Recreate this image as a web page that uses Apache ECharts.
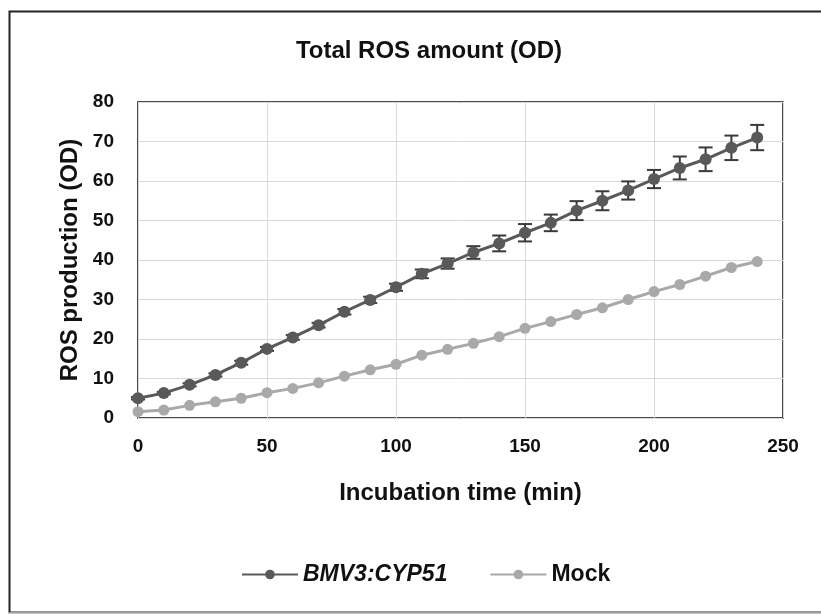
<!DOCTYPE html>
<html>
<head>
<meta charset="utf-8">
<script src="https://cdn.jsdelivr.net/npm/echarts@6/dist/echarts.min.js"></script>
<style>
html,body{margin:0;padding:0;background:#fff;}
#c{width:821px;height:614px;}
</style>
</head>
<body>
<div id="c"></div>
<script>
const times = [0,10,20,30,40,50,60,70,80,90,100,110,120,130,140,150,160,170,180,190,200,210,220,230,240];
const bmvValues = [5.0,6.3,8.4,10.9,14.0,17.5,20.4,23.5,26.9,29.9,33.1,36.5,39.1,41.9,44.2,46.9,49.4,52.5,55.0,57.6,60.5,63.3,65.5,68.4,71.0];
const bmvErrors = [0.3,0.3,0.4,0.4,0.5,0.5,0.6,0.6,0.7,0.8,0.9,1.1,1.3,1.6,2.0,2.2,2.1,2.4,2.4,2.3,2.3,2.9,3.0,3.1,3.2];
const mockValues = [1.6,2.0,3.2,4.1,5.0,6.4,7.5,8.9,10.6,12.2,13.6,15.9,17.4,18.9,20.6,22.7,24.4,26.2,27.9,30.0,32.0,33.8,35.9,38.1,39.6];
const xTicks = [0,50,100,150,200,250];
const yTicks = [0,10,20,30,40,50,60,70,80];

const FONT = '"Liberation Sans Narrow", "Liberation Sans", Arial, sans-serif';
const DARK = '#595959';
const LIGHT = '#a9a9a9';

const chart = echarts.init(document.getElementById('c'), null, {renderer:'canvas'});

const bmvData = times.map((t,i)=>[t,bmvValues[i]]);
const mockData = times.map((t,i)=>[t,mockValues[i]]);
const errData = times.map((t,i)=>[t,bmvValues[i],bmvErrors[i]]);

chart.setOption({
  animation:false,
  backgroundColor:'#fff',
  graphic:[
    {type:'rect', silent:true, z:-10,
     shape:{x:9.5,y:11.5,width:900,height:601},
     style:{fill:'#fff',stroke:'#222',lineWidth:2}},
    {type:'line', silent:true, z:-9,
     shape:{x1:9,y1:613,x2:821,y2:613},
     style:{stroke:'#cfcfcf',lineWidth:1.5}}
  ],
  title:{
    text:'Total ROS amount (OD)',
    left:424, top:34, textAlign:'center',
    textStyle:{fontFamily:FONT,fontSize:24,fontWeight:'bold',color:'#111'}
  },
  legend:{
    bottom:23, left:236,
    itemWidth:56, itemHeight:12, itemGap:42,
    textStyle:{fontFamily:FONT,fontSize:23,fontWeight:'bold',color:'#111'},
    data:[
      {name:'BMV3:CYP51', textStyle:{fontStyle:'italic'}},
      {name:'Mock'}
    ]
  },
  grid:{left:138, top:102, width:645, height:316, show:true, borderColor:'#111', borderWidth:1.5, backgroundColor:'transparent'},
  xAxis:{
    type:'value', min:xTicks[0], max:xTicks[xTicks.length-1], interval:50,
    name:'Incubation time (min)', nameLocation:'middle', nameGap:63,
    nameTextStyle:{fontFamily:FONT,fontSize:24,fontWeight:'bold',color:'#111'},
    axisLine:{show:false}, axisTick:{show:false},
    axisLabel:{fontFamily:FONT,fontSize:19,fontWeight:'bold',color:'#111',margin:19},
    splitLine:{show:true,lineStyle:{color:'#d9d9d9',width:1}}
  },
  yAxis:{
    type:'value', min:yTicks[0], max:yTicks[yTicks.length-1], interval:10,
    name:'ROS production (OD)', nameLocation:'middle', nameGap:55,
    nameTextStyle:{fontFamily:FONT,fontSize:24,fontWeight:'bold',color:'#111'},
    axisLine:{show:false}, axisTick:{show:false},
    axisLabel:{fontFamily:FONT,fontSize:19,fontWeight:'bold',color:'#111',margin:24},
    splitLine:{show:true,lineStyle:{color:'#d9d9d9',width:1}}
  },
  series:[
    {
      name:'Mock', type:'line', data:mockData,
      symbol:'circle', symbolSize:11,
      lineStyle:{color:LIGHT,width:3},
      itemStyle:{color:LIGHT},
      z:3
    },
    {
      name:'err', type:'custom', data:errData, z:4,
      renderItem:function(params, api){
        const x = api.value(0), y = api.value(1), e = api.value(2);
        const top = api.coord([x, y+e]);
        const bot = api.coord([x, y-e]);
        const hw = 7;
        const st = {stroke:'#3a3a3a', lineWidth:2};
        return {type:'group', children:[
          {type:'line', shape:{x1:top[0],y1:top[1],x2:bot[0],y2:bot[1]}, style:st},
          {type:'line', shape:{x1:top[0]-hw,y1:top[1],x2:top[0]+hw,y2:top[1]}, style:st},
          {type:'line', shape:{x1:bot[0]-hw,y1:bot[1],x2:bot[0]+hw,y2:bot[1]}, style:st}
        ]};
      }
    },
    {
      name:'BMV3:CYP51', type:'line', data:bmvData,
      symbol:'circle', symbolSize:12,
      lineStyle:{color:DARK,width:3},
      itemStyle:{color:DARK},
      z:5
    }
  ]
});
</script>
</body>
</html>
